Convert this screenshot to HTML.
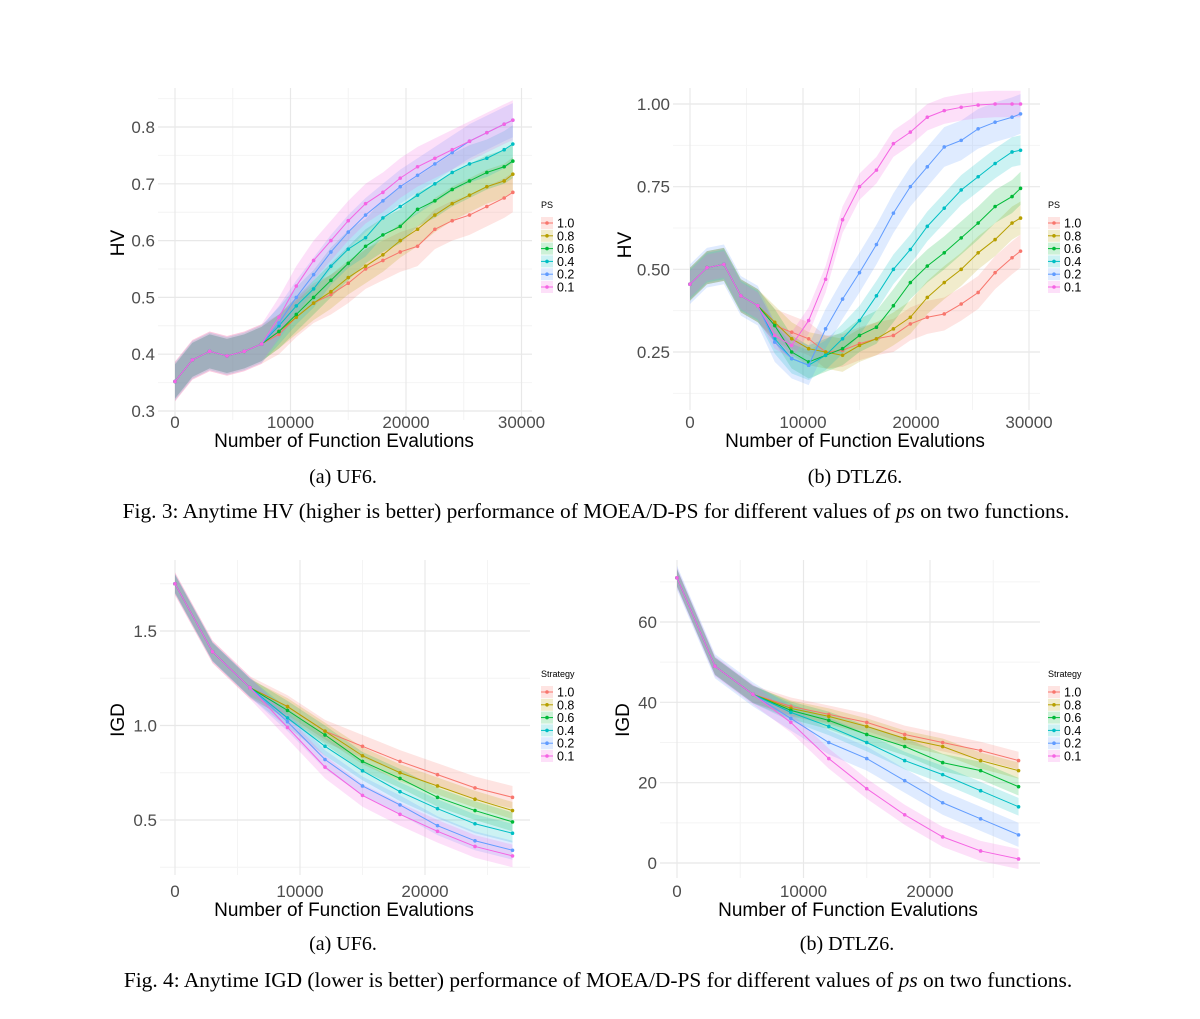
<!DOCTYPE html>
<html><head><meta charset="utf-8"><style>
html,body{margin:0;padding:0;background:#fff;}
svg{display:block;}
</style></head><body>
<svg id="fig" width="1200" height="1019" xmlns="http://www.w3.org/2000/svg" font-family="Liberation Sans, sans-serif">
<rect width="1200" height="1019" fill="#fff"/>
<text x="343" y="483" text-anchor="middle" font-family="Liberation Serif, serif" font-size="20">(a) UF6.</text>
<text x="855" y="483" text-anchor="middle" font-family="Liberation Serif, serif" font-size="20">(b) DTLZ6.</text>
<text x="596" y="518" text-anchor="middle" font-family="Liberation Serif, serif" font-size="21.4">Fig. 3: Anytime HV (higher is better) performance of MOEA/D-PS for different values of <tspan font-style="italic">ps</tspan> on two functions.</text>
<text x="343" y="950" text-anchor="middle" font-family="Liberation Serif, serif" font-size="20">(a) UF6.</text>
<text x="847" y="950" text-anchor="middle" font-family="Liberation Serif, serif" font-size="20">(b) DTLZ6.</text>
<text x="598" y="987" text-anchor="middle" font-family="Liberation Serif, serif" font-size="21.4">Fig. 4: Anytime IGD (lower is better) performance of MOEA/D-PS for different values of <tspan font-style="italic">ps</tspan> on two functions.</text>
</svg>
<script>
const seriesLabels = ["1.0","0.8","0.6","0.4","0.2","0.1"];
const colors = ["#F8766D","#B79F00","#00BA38","#00BFC4","#619CFF","#F564E3"];

// Chart 1: UF6 HV
const hvUfX = [0,1500,3000,4500,6000,7500,9000,10500,12000,13500,15000,16500,18000,19500,21000,22500,24000,25500,27000,28500,29250];
const hvUfEarly = [0.352,0.39,0.405,0.397,0.405,0.418];
const hvUf10 = [0.435,0.465,0.49,0.505,0.525,0.55,0.565,0.58,0.59,0.62,0.635,0.645,0.66,0.675,0.685];
const hvUf08 = [0.44,0.465,0.49,0.51,0.535,0.555,0.575,0.60,0.62,0.645,0.665,0.68,0.695,0.705,0.717];
const hvUf06 = [0.44,0.47,0.50,0.53,0.56,0.59,0.61,0.625,0.655,0.67,0.69,0.705,0.72,0.73,0.74];
const hvUf04 = [0.45,0.485,0.515,0.555,0.585,0.605,0.64,0.66,0.68,0.70,0.72,0.735,0.745,0.76,0.77];
const hvUf02 = [0.455,0.50,0.54,0.58,0.615,0.645,0.67,0.695,0.715,0.735,0.755,0.775,0.79,0.805,0.812];
const hvUf01 = [0.465,0.52,0.565,0.60,0.635,0.665,0.685,0.71,0.73,0.745,0.76,0.775,0.79,0.805,0.812];
const hvUfBand = [0.035,0.03,0.03,0.033,0.03,0.035];

// Chart 2: DTLZ6 HV
const hvDtX = [0,1500,3000,4500,6000,7500,9000,10500,12000,13500,15000,16500,18000,19500,21000,22500,24000,25500,27000,28500,29250];
const hvDtEarly = [0.455,0.505,0.515,0.42,0.39];
const hvDt10 = [0.33,0.31,0.29,0.25,0.255,0.275,0.29,0.30,0.335,0.355,0.365,0.395,0.43,0.49,0.535,0.555];
const hvDt08 = [0.34,0.29,0.26,0.25,0.24,0.27,0.29,0.32,0.355,0.415,0.46,0.50,0.55,0.59,0.64,0.655];
const hvDt06 = [0.33,0.25,0.22,0.24,0.26,0.30,0.325,0.39,0.46,0.51,0.55,0.595,0.64,0.69,0.72,0.745];
const hvDt04 = [0.29,0.23,0.21,0.24,0.29,0.345,0.42,0.50,0.56,0.63,0.685,0.74,0.78,0.82,0.855,0.86];
const hvDt02 = [0.28,0.23,0.21,0.32,0.41,0.49,0.575,0.67,0.75,0.81,0.87,0.89,0.925,0.945,0.96,0.97];
const hvDt01 = [0.30,0.27,0.345,0.47,0.65,0.75,0.80,0.88,0.915,0.96,0.98,0.99,0.997,1.0,1.0,1.0];
const hvDtBand = [0.05,0.05,0.05,0.045,0.06,0.04];

// Chart 3: UF6 IGD
const igdX = [0,3000,6000,9000,12000,15000,18000,21000,24000,27000];
const igdUf10 = [1.75,1.39,1.20,1.10,0.97,0.89,0.81,0.74,0.67,0.62];
const igdUf08 = [1.75,1.39,1.20,1.10,0.97,0.84,0.75,0.68,0.61,0.55];
const igdUf06 = [1.75,1.39,1.20,1.08,0.95,0.81,0.72,0.62,0.55,0.49];
const igdUf04 = [1.75,1.39,1.20,1.04,0.89,0.76,0.65,0.56,0.48,0.43];
const igdUf02 = [1.75,1.39,1.20,1.02,0.82,0.68,0.58,0.47,0.39,0.34];
const igdUf01 = [1.75,1.39,1.20,0.99,0.78,0.63,0.53,0.44,0.36,0.31];
const igdUfBand = [0.06,0.045,0.05,0.05,0.05,0.06];

// Chart 4: DTLZ6 IGD
const igdDt10 = [71,49,42,39,37,35,32,30,28,25.5];
const igdDt08 = [71,49,42,38.5,36.5,34,31,29,25.5,23];
const igdDt06 = [71,49,42,38,35.5,32,29,25,23,19];
const igdDt04 = [71,49,42,37.5,34,30,25.5,22,18,14];
const igdDt02 = [71,49,42,36,30,26,20.5,15,11,7];
const igdDt01 = [71,49,42,35,26,18.5,12,6.5,3,1];
const igdDtBand = [2.2,2,2.2,2.2,3,2.5];

const xTicks = [0,10000,20000,30000];
const hvUfYTicks = [0.3,0.4,0.5,0.6,0.7,0.8];
const hvDtYTicks = [0.25,0.5,0.75,1.0];
const igdUfYTicks = [0.5,1.0,1.5];
const igdDtYTicks = [0,20,40,60];

const NS = "http://www.w3.org/2000/svg";
const svg = document.getElementById('fig');
function mk(tag, attrs, parent){const e=document.createElementNS(NS,tag);for(const k in attrs)e.setAttribute(k,attrs[k]);(parent||svg).appendChild(e);return e;}

function chart(cfg){
  const g = mk('g',{});
  
  
  const sx = v => cfg.x0 + (v)*cfg.xPer;
  const sy = v => cfg.yA + (v-cfg.vA)*(cfg.yB-cfg.yA)/(cfg.vB-cfg.vA);
  cfg.yMinor.forEach(v=>{const y=sy(v); if(y>cfg.top&&y<cfg.bottom) mk('line',{x1:cfg.left,x2:cfg.right,y1:y,y2:y,stroke:'#f4f4f4','stroke-width':1},g);});
  cfg.xMinor.forEach(v=>{const x=sx(v); if(x<cfg.right) mk('line',{x1:x,x2:x,y1:cfg.top,y2:cfg.bottom,stroke:'#f4f4f4','stroke-width':1},g);});
  cfg.yTicks.forEach(v=>{const y=sy(v);
    mk('line',{x1:cfg.left,x2:cfg.right,y1:y,y2:y,stroke:'#e8e8e8','stroke-width':1.2},g);
    const t=mk('text',{x:cfg.left-3,y:y+6,'text-anchor':'end','font-size':17,fill:'#4d4d4d'},g);
    t.textContent = cfg.yFmt(v);
    
    
  });
  cfg.xTicks.forEach(v=>{const x=sx(v); if(x>cfg.right) return;
    mk('line',{x1:x,x2:x,y1:cfg.top,y2:cfg.bottom,stroke:'#e8e8e8','stroke-width':1.2},g);
    const t=mk('text',{x:x,y:cfg.xLabY,'text-anchor':'middle','font-size':17,fill:'#4d4d4d'},g);
    t.textContent = String(v);
    
    
  });
  cfg.series.forEach((s,i)=>{
    const up = s.map((v,j)=>sx(cfg.xs[j])+','+sy(v+cfg.band[i]));
    const dn = s.map((v,j)=>sx(cfg.xs[j])+','+sy(v-cfg.band[i])).reverse();
    const p = mk('polygon',{points:up.concat(dn).join(' '),fill:colors[i],'fill-opacity':0.2},g);
    
    
  });
  cfg.series.forEach((s,i)=>{
    const pl = mk('polyline',{points:s.map((v,j)=>sx(cfg.xs[j])+','+sy(v)).join(' '),fill:'none',stroke:colors[i],'stroke-width':1},g);
    
    
    s.forEach((v,j)=>{
      const c = mk('circle',{cx:sx(cfg.xs[j]),cy:sy(v),r:1.8,fill:colors[i]},g);
      
      
    });
  });
  const xt = mk('text',{x:cfg.xTitleX,y:cfg.xLabY+19,'text-anchor':'middle','font-size':19,fill:'#000'},g);
  xt.textContent='Number of Function Evalutions';
  
  
  const yt = mk('text',{x:0,y:0,'text-anchor':'middle','font-size':19,fill:'#000',transform:`translate(${cfg.yTitleX},${cfg.yTitleY}) rotate(-90)`},g);
  yt.textContent=cfg.yTitle;
  
  
  const lg = mk('g',{},g);
  
  
  const lt = mk('text',{x:cfg.legX,y:cfg.legY,'font-size':9,fill:'#000'},lg);
  lt.textContent = cfg.legTitle;
  seriesLabels.forEach((lab,i)=>{
    const yy = cfg.legY+15+i*12.8;
    const e = mk('g',{},lg);
    
    
    mk('rect',{x:cfg.legX,y:yy-6,width:12,height:12,fill:colors[i],'fill-opacity':0.2},e);
    mk('line',{x1:cfg.legX,x2:cfg.legX+12,y1:yy,y2:yy,stroke:colors[i],'stroke-width':1},e);
    mk('circle',{cx:cfg.legX+6,cy:yy,r:1.8,fill:colors[i]},e);
    const t = mk('text',{x:cfg.legX+16,y:yy+4.5,'font-size':12.5,fill:'#000'},e);
    t.textContent = lab;
  });
}

chart({name:'chart-uf6-hv',xs:hvUfX,x0:175,xPer:0.01155,vA:0.8,yA:127,vB:0.3,yB:411,
  left:158,right:532,top:88,bottom:420,yTicks:hvUfYTicks,yMinor:[0.35,0.45,0.55,0.65,0.75,0.85],
  xTicks:xTicks,xMinor:[5000,15000,25000],yFmt:v=>v.toFixed(1),xLabY:428,xTitleX:344,
  yTitle:'HV',yTitleX:124,yTitleY:243,legX:541,legY:208,legTitle:'PS',band:hvUfBand,
  series:[hvUf10,hvUf08,hvUf06,hvUf04,hvUf02,hvUf01].map(t=>hvUfEarly.concat(t))});

chart({name:'chart-dtlz6-hv',xs:hvDtX,x0:690,xPer:0.01130,vA:1.0,yA:104,vB:0.25,yB:352,
  left:673,right:1040,top:88,bottom:410,yTicks:hvDtYTicks,yMinor:[0.125,0.375,0.625,0.875],
  xTicks:xTicks,xMinor:[5000,15000,25000],yFmt:v=>v.toFixed(2),xLabY:428,xTitleX:855,
  yTitle:'HV',yTitleX:631,yTitleY:245,legX:1048,legY:208,legTitle:'PS',band:hvDtBand,
  series:[hvDt10,hvDt08,hvDt06,hvDt04,hvDt02,hvDt01].map(t=>hvDtEarly.concat(t))});

chart({name:'chart-uf6-igd',xs:igdX,x0:175,xPer:0.0125,vA:1.5,yA:631,vB:0.5,yB:820,
  left:160,right:530,top:560,bottom:875,yTicks:igdUfYTicks,yMinor:[0.25,0.75,1.25,1.75],
  xTicks:xTicks,xMinor:[5000,15000,25000],yFmt:v=>v.toFixed(1),xLabY:897,xTitleX:344,
  yTitle:'IGD',yTitleX:124,yTitleY:720,legX:541,legY:677,legTitle:'Strategy',band:igdUfBand,
  series:[igdUf10,igdUf08,igdUf06,igdUf04,igdUf02,igdUf01]});

chart({name:'chart-dtlz6-igd',xs:igdX,x0:677,xPer:0.01265,vA:60,yA:622,vB:0,yB:863,
  left:660,right:1040,top:560,bottom:878,yTicks:igdDtYTicks,yMinor:[10,30,50,70],
  xTicks:xTicks,xMinor:[5000,15000,25000],yFmt:v=>String(v),xLabY:897,xTitleX:848,
  yTitle:'IGD',yTitleX:629,yTitleY:720,legX:1048,legY:677,legTitle:'Strategy',band:igdDtBand,
  series:[igdDt10,igdDt08,igdDt06,igdDt04,igdDt02,igdDt01]});
</script>
</body></html>
